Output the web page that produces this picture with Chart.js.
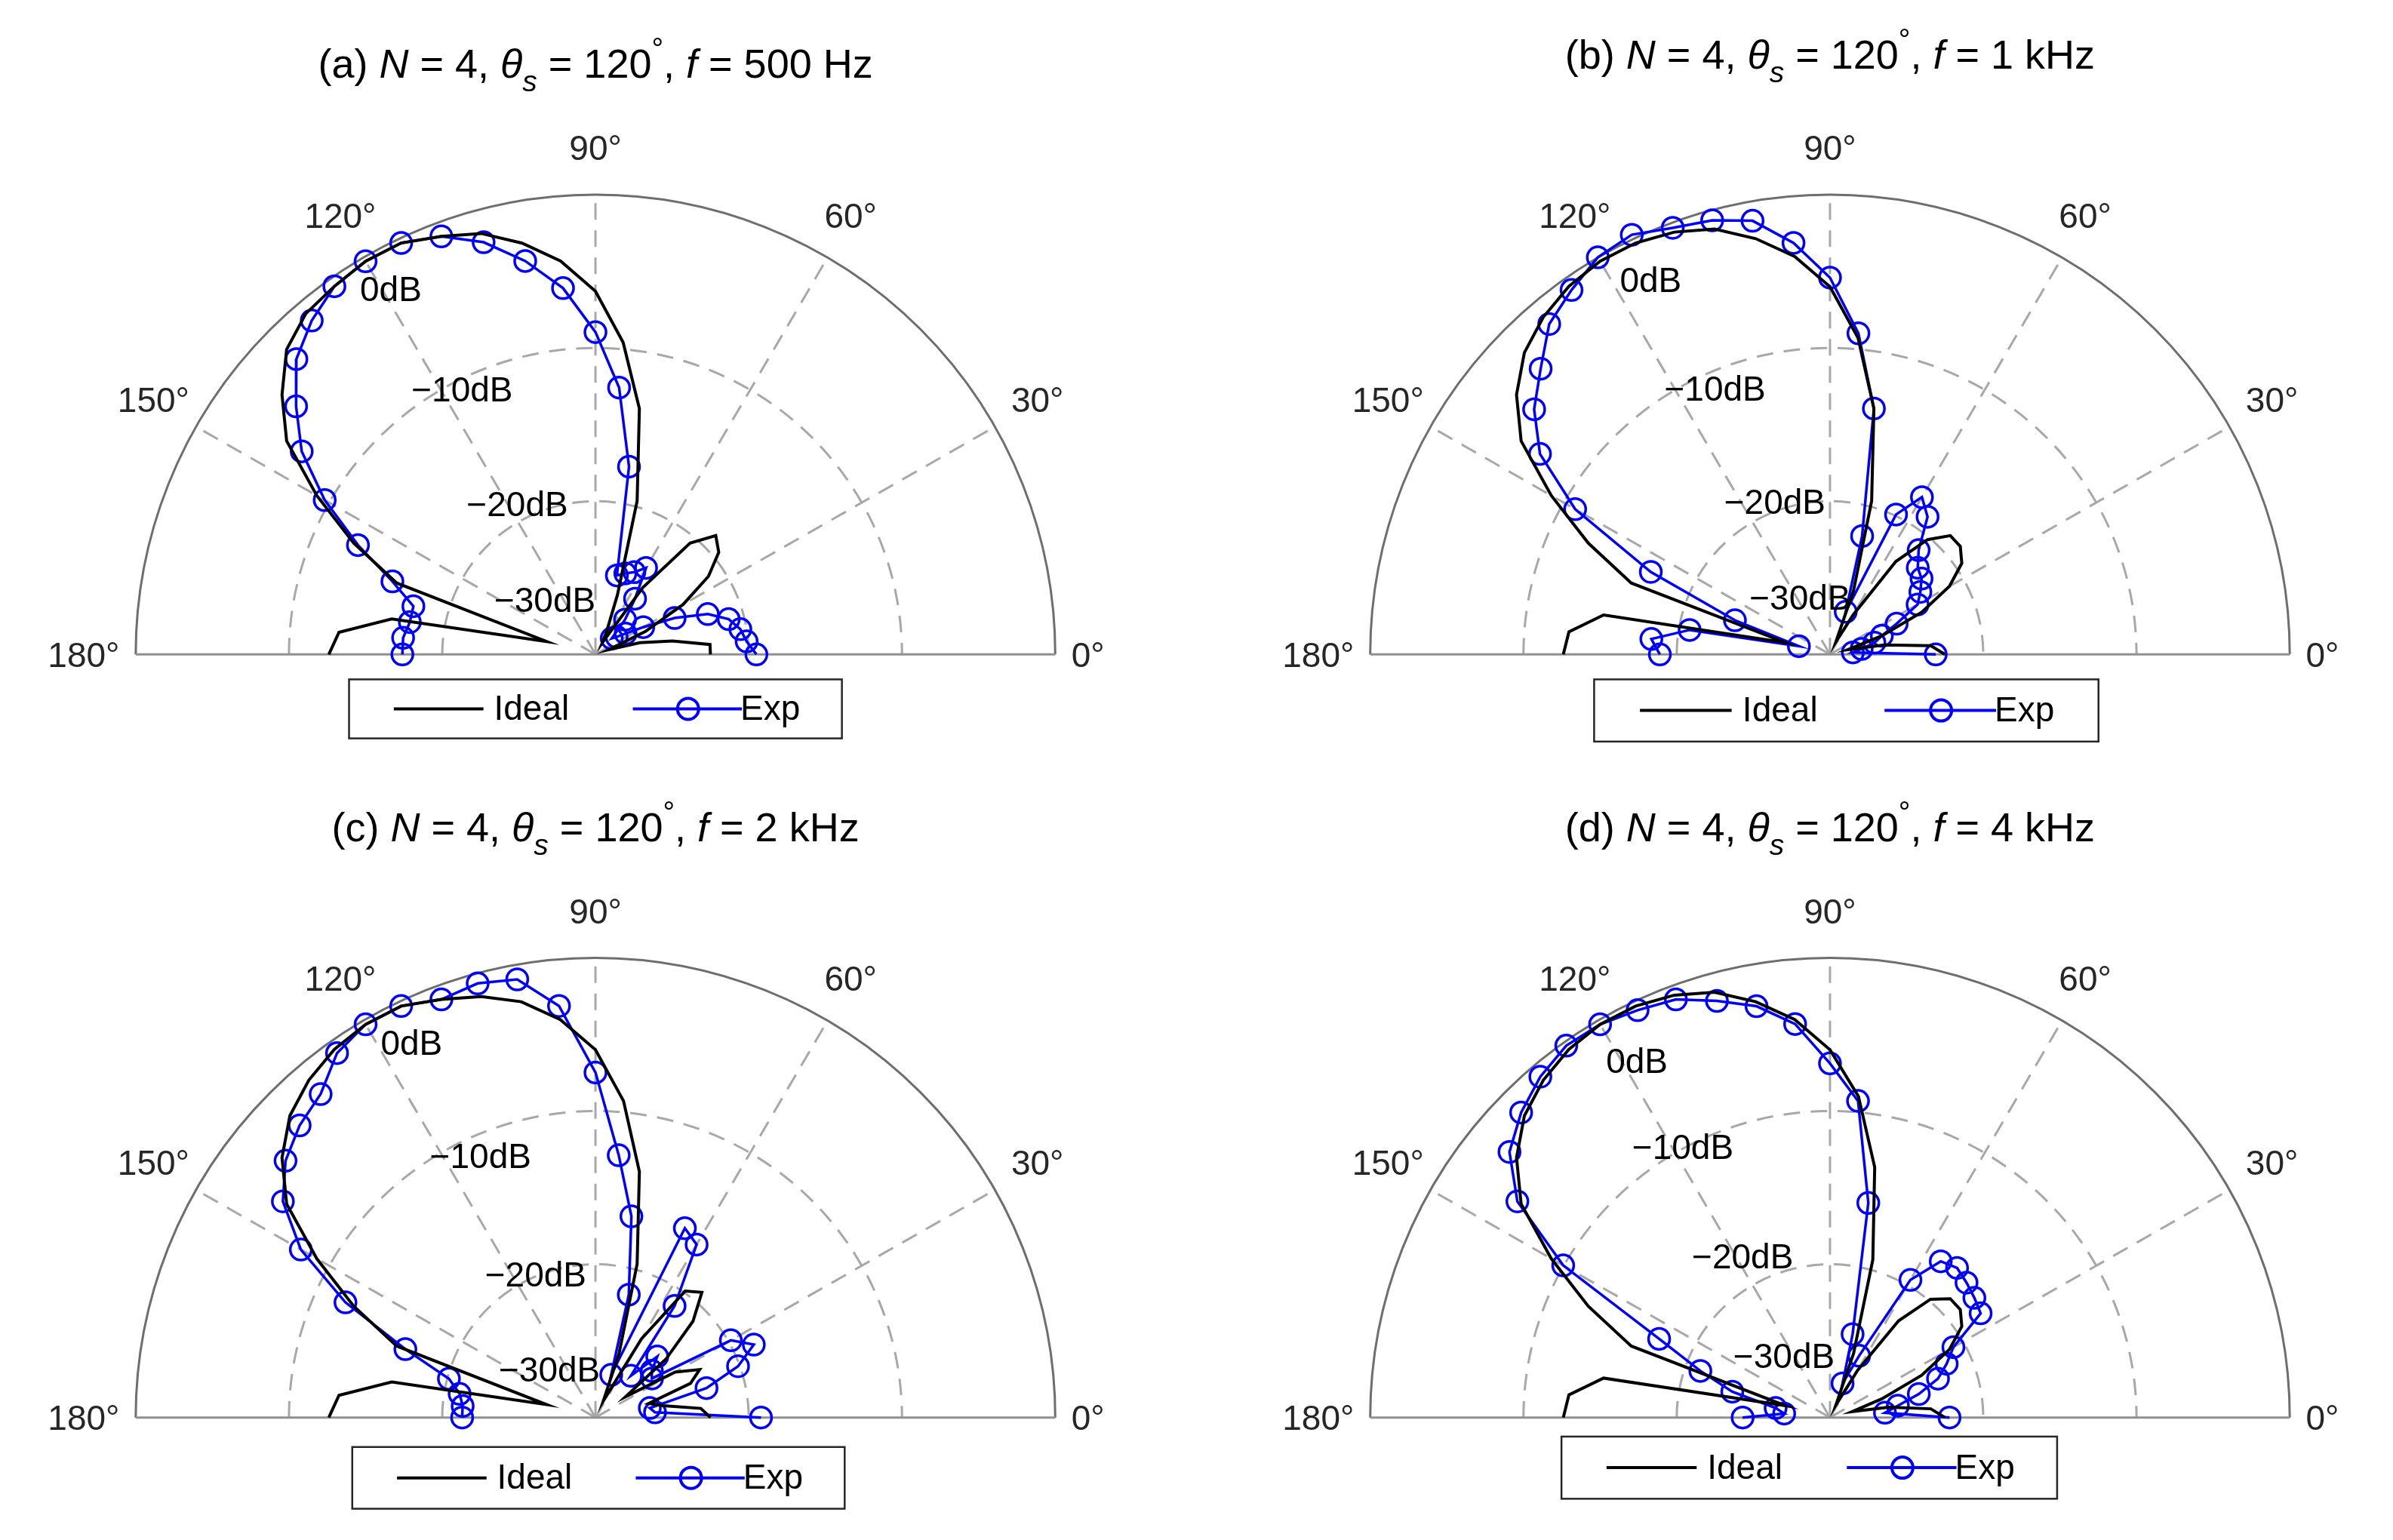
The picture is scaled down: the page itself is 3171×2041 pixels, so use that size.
<!DOCTYPE html>
<html><head><meta charset="utf-8">
<script src="https://cdn.jsdelivr.net/npm/chart.js@4"></script>
<style>body{margin:0;background:#fff}#wrap{position:relative;width:3171px;height:2041px;background:#fff}
canvas{position:absolute}</style></head>
<body><div id="wrap">
<canvas id="ca"></canvas><canvas id="cb"></canvas><canvas id="cc"></canvas><canvas id="cd"></canvas>
</div>
<script>
// angles (deg) of samples
const angles = [0,5,10,15,20,25,30,35,40,45,50,55,60,65,70,75,80,85,90,95,100,105,110,115,120,125,130,135,140,145,150,155,160,165,170,175,180];
// normalized radius (0 = -40 dB centre, 1 = outer ring)
const idealA = [.25,.25,.17,.10,.03,.12,.22,.30,.35,.37,.32,.18,.03,.06,.14,.35,.55,.69,.80,.87,.92,.96,.98,1.0,1.0,.99,.98,.95,.89,.82,.70,.58,.46,.11,.45,.56,.58];
const expA   = [.35,.33,.32,.30,.26,.19,.12,.08,.06,.05,.10,.15,.22,.20,.19,.18,.42,.59,.71,.81,.88,.94,.98,1.0,1.0,.99,.96,.92,.85,.78,.68,.57,.47,.41,.41,.42,.42];
const idealB = [.25,.22,.12,.04,.12,.22,.30,.35,.37,.37,.33,.25,.10,.03,.15,.35,.55,.70,.81,.88,.93,.97,.99,1.0,1.0,.99,.97,.94,.89,.82,.70,.58,.46,.10,.50,.57,.58];
const expB   = [.23,.05,.07,.10,.12,.16,.22,.24,.26,.27,.30,.37,.40,.34,.10,.27,.55,.71,.83,.91,.97,.99,1.0,1.02,1.01,.98,.95,.89,.84,.77,.64,.43,.22,.07,.31,.39,.37];
const idealC = [.25,.23,.15,.12,.22,.25,.20,.08,.20,.30,.36,.34,.20,.04,.15,.35,.55,.70,.81,.88,.93,.96,.98,1.0,1.0,.99,.97,.94,.89,.82,.70,.58,.46,.11,.45,.56,.58];
const expC   = [.36,.13,.12,.25,.33,.38,.34,.15,.16,.19,.12,.30,.44,.46,.10,.28,.45,.58,.76,.91,.98,.99,.98,1.0,1.0,.98,.93,.91,.88,.83,.74,.60,.44,.33,.30,.29,.29];
const idealD = [.25,.22,.13,.05,.12,.22,.30,.35,.37,.37,.34,.26,.12,.03,.15,.36,.56,.71,.81,.88,.93,.97,.99,1.0,1.0,.99,.97,.94,.89,.82,.70,.58,.46,.10,.50,.57,.58];
const expD   = [.26,.12,.15,.20,.25,.28,.31,.40,.41,.42,.43,.42,.35,.15,.08,.19,.48,.70,.78,.87,.92,.95,.98,.99,1.0,1.0,.98,.95,.91,.83,.67,.41,.30,.22,.12,.10,.19];
const angleTicks = [0,30,60,90,120,150,180];
const ringLabels = ['0dB','\u221210dB','\u221220dB','\u221230dB'];
const freqs = ['500 Hz','1 kHz','2 kHz','4 kHz'];
const panelLetters = ['a','b','c','d'];

const R = 623;
const panels = [
 {id:'ca',left:0,top:0,w:1585,h:1020,cx:789,cy:880,ideal:idealA,exp:expA,ty:1.27,leg:[-0.536,0.536,-0.055,-0.185],lab:[[-0.445,0.80],[-0.29,0.578],[-0.17,0.325],[-0.11,0.114]]},
 {id:'cb',left:1585,top:0,w:1586,h:1020,cx:841,cy:880,ideal:idealB,exp:expB,ty:1.29,leg:[-0.513,0.584,-0.055,-0.192],lab:[[-0.39,0.82],[-0.25,0.58],[-0.12,0.33],[-0.065,0.12]]},
 {id:'cc',left:0,top:1020,w:1585,h:1021,cx:789,cy:871,ideal:idealC,exp:expC,ty:1.27,leg:[-0.529,0.542,-0.065,-0.201],lab:[[-0.40,0.82],[-0.25,0.57],[-0.13,0.31],[-0.10,0.10]]},
 {id:'cd',left:1585,top:1020,w:1586,h:1021,cx:841,cy:871,ideal:idealD,exp:expD,ty:1.27,leg:[-0.584,0.494,-0.042,-0.179],lab:[[-0.42,0.78],[-0.32,0.59],[-0.19,0.35],[-0.10,0.13]]}
];
const toXY = r => angles.map((a,i)=>({x:r[i]*Math.cos(a*Math.PI/180), y:r[i]*Math.sin(a*Math.PI/180)}));
const FONT = 'Arial, "Liberation Sans", sans-serif';

const polarPlugin = {
 id:'polar',
 beforeDatasetsDraw(chart){
  const {ctx,scales:{x,y}} = chart;
  const px=v=>x.getPixelForValue(v), py=v=>y.getPixelForValue(v);
  const ox=px(0), oy=py(0), rr=px(1)-px(0);
  ctx.save();
  ctx.strokeStyle='#a8a8a8'; ctx.lineWidth=3; ctx.setLineDash([22,14]);
  [1/3,2/3].forEach(f=>{ctx.beginPath();ctx.arc(ox,oy,rr*f,Math.PI,2*Math.PI);ctx.stroke();});
  [30,60,90,120,150].forEach(a=>{const t=a*Math.PI/180;ctx.beginPath();ctx.moveTo(ox,oy);ctx.lineTo(px(Math.cos(t)),py(Math.sin(t)));ctx.stroke();});
  ctx.setLineDash([]); ctx.strokeStyle='#6e6e6e'; ctx.lineWidth=3;
  ctx.beginPath();ctx.arc(ox,oy,rr,Math.PI,2*Math.PI);ctx.stroke();
  ctx.strokeStyle='#909090';
  ctx.beginPath();ctx.moveTo(px(-1),oy);ctx.lineTo(px(1),oy);ctx.stroke();
  // angle labels
  ctx.fillStyle='#262626'; ctx.font='46px '+FONT; ctx.textBaseline='middle';
  angleTicks.forEach(a=>{
   const t=a*Math.PI/180;
   if(a===0){ctx.textAlign='left';ctx.fillText('0\u00b0',px(1.035),oy+4);}
   else if(a===180){ctx.textAlign='right';ctx.fillText('180\u00b0',px(-1.035),oy+4);}
   else {ctx.textAlign='center';ctx.fillText(a+'\u00b0',px(1.11*Math.cos(t)),py(1.11*Math.sin(t)));}
  });
  ctx.restore();
 },
 afterDraw(chart){
  const {ctx,scales:{x,y}} = chart; const P=chart.options.plugins.polar;
  const px=v=>x.getPixelForValue(v), py=v=>y.getPixelForValue(v);
  ctx.save();
  ctx.fillStyle='#000'; ctx.font='46px '+FONT; ctx.textAlign='center'; ctx.textBaseline='middle';
  ringLabels.forEach((l,i)=>ctx.fillText(l,px(P.lab[i][0]),py(P.lab[i][1])));
  // title
  const segs=[{t:'('+P.letter+') '},{t:'N',i:1},{t:' = 4, '},{t:'\u03b8',i:1},{t:'s',i:1,sub:1},{t:' = 120'},{t:'\u00b0',sup:1},{t:', '},{t:'f',i:1},{t:' = '+P.freq}];
  const fs=54; const fnt=s=>(s.i?'italic ':'')+((s.sub||s.sup)?Math.round(fs*0.72):fs)+'px '+FONT;
  let tw=0; segs.forEach(s=>{ctx.font=fnt(s);s.w=ctx.measureText(s.t).width;tw+=s.w;});
  let cx=px(0)-tw/2; const ty=py(P.ty);
  ctx.textAlign='left'; ctx.textBaseline='alphabetic';
  segs.forEach(s=>{ctx.font=fnt(s);ctx.fillText(s.t,cx,ty+(s.sub?18:s.sup?-26:0));cx+=s.w;});
  // legend
  const [x1,x2,yt,yb]=P.leg; const L=px(x1),Rr=px(x2),T=py(yt),B=py(yb); const k=(Rr-L)/330; const mid=(T+B)/2;
  ctx.fillStyle='#fff'; ctx.fillRect(L,T,Rr-L,B-T);
  ctx.strokeStyle='#262626'; ctx.lineWidth=2.5; ctx.strokeRect(L,T,Rr-L,B-T);
  ctx.strokeStyle='#000'; ctx.lineWidth=4; ctx.beginPath(); ctx.moveTo(L+30*k,mid);ctx.lineTo(L+90*k,mid);ctx.stroke();
  ctx.strokeStyle='#0000ff'; ctx.beginPath(); ctx.moveTo(L+190*k,mid);ctx.lineTo(L+263*k,mid);ctx.stroke();
  ctx.beginPath(); ctx.arc(L+227*k,mid,14,0,2*Math.PI); ctx.stroke();
  ctx.fillStyle='#000'; ctx.font='46px '+FONT; ctx.textBaseline='middle';
  ctx.fillText('Ideal',L+97*k,mid+2); ctx.fillText('Exp',L+262*k,mid+2);
  ctx.restore();
 }
};

panels.forEach((p,idx)=>{
 const c=document.getElementById(p.id);
 c.width=p.w;c.height=p.h;c.style.left=p.left+'px';c.style.top=p.top+'px';c.style.width=p.w+'px';c.style.height=p.h+'px';
 new Chart(c,{
  type:'scatter',
  data:{datasets:[
   {label:'Ideal',data:toXY(p.ideal),showLine:true,borderColor:'#000',borderWidth:4,pointRadius:0,fill:false,tension:0},
   {label:'Exp',data:toXY(p.exp),showLine:true,borderColor:'#0000ff',borderWidth:3.5,pointRadius:14,pointBorderWidth:3.5,pointBorderColor:'#0000ff',pointBackgroundColor:'rgba(0,0,0,0)',fill:false,tension:0}
  ]},
  options:{responsive:false,animation:false,devicePixelRatio:1,
   layout:{padding:0},
   scales:{x:{type:'linear',display:false,min:-p.cx/R,max:(p.w-p.cx)/R},
           y:{type:'linear',display:false,min:-(p.h-p.cy)/R,max:p.cy/R}},
   plugins:{legend:{display:false},tooltip:{enabled:false},
    polar:{lab:p.lab,leg:p.leg,ty:p.ty,letter:panelLetters[idx],freq:freqs[idx]}}
  },
  plugins:[polarPlugin]
 });
});
</script></body></html>
